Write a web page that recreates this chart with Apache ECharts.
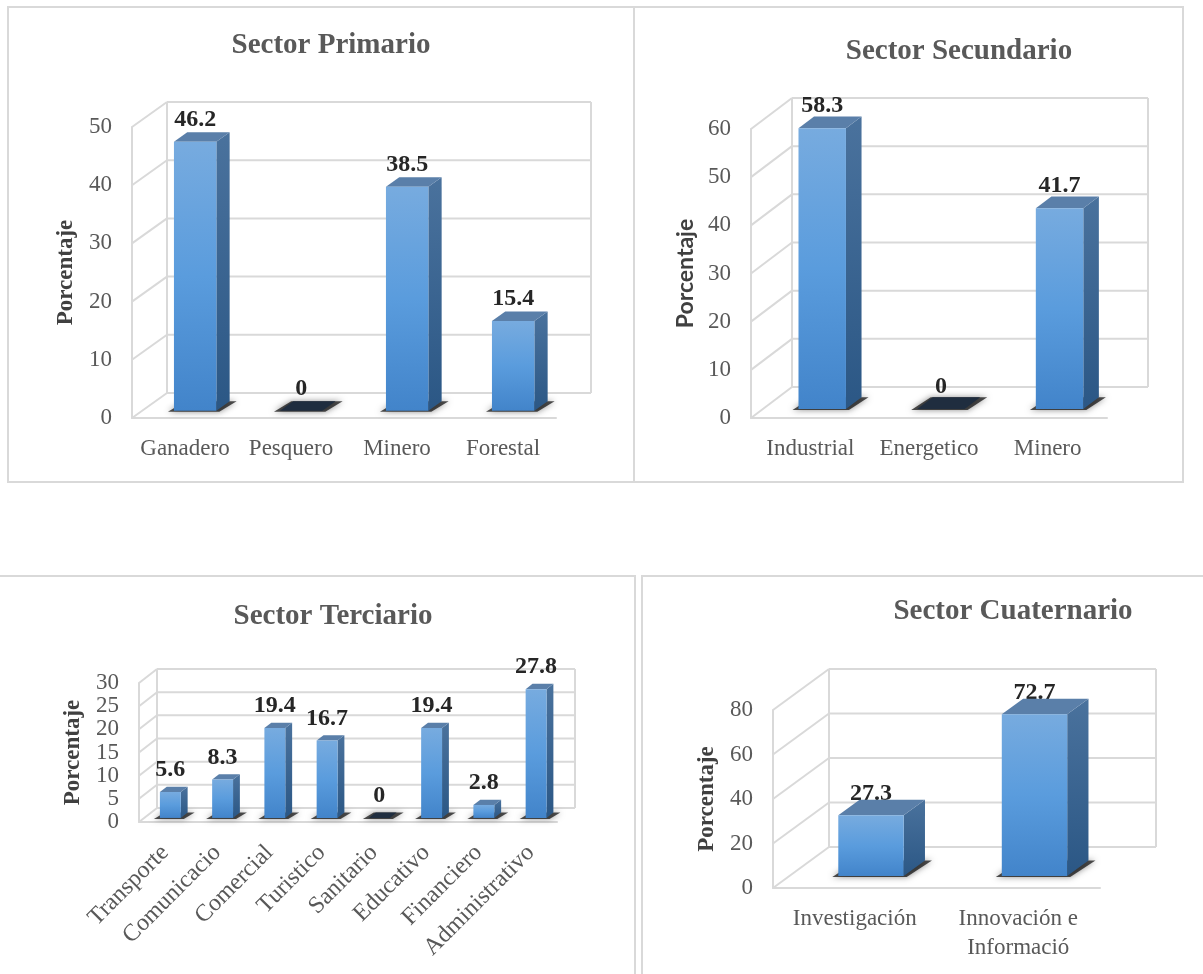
<!DOCTYPE html>
<html>
<head>
<meta charset="utf-8">
<script src="https://cdn.jsdelivr.net/npm/echarts@6/dist/echarts.min.js"></script>
<style>
  html, body { margin: 0; padding: 0; background: #fff; overflow: hidden; }
  #chart { width: 1203px; height: 974px; }
</style>
</head>
<body>
<div id="chart"></div>
<script>
// datos de cada sector
const primCats = ['Ganadero', 'Pesquero', 'Minero', 'Forestal']
const primVals = [46.2, 0, 38.5, 15.4]
const primTicks = [0, 10, 20, 30, 40, 50]

const secCats = ['Industrial', 'Energetico', 'Minero']
const secVals = [58.3, 0, 41.7]
const secTicks = [0, 10, 20, 30, 40, 50, 60]

const terCats = ['Transporte', 'Comunicacio', 'Comercial', 'Turistico', 'Sanitario', 'Educativo', 'Financiero', 'Administrativo']
const terVals = [5.6, 8.3, 19.4, 16.7, 0, 19.4, 2.8, 27.8]
const terTicks = [0, 5, 10, 15, 20, 25, 30]

const cuaCats = ['Investigación', 'Innovación e\nInformació']
const cuaVals = [27.3, 72.7]
const cuaTicks = [0, 20, 40, 60, 80]

const SERIF = '"Liberation Serif", "Times New Roman", serif'
const GRID_COLOR = '#d9d9d9'
const TEXT_COLOR = '#595959'

// layout of each panel (front plane of the 3d box + depth vector)
const panels = [
  { title: 'Sector Primario', tx: 331, ty: 46, cats: primCats, vals: primVals, ticks: primTicks,
    grid: { left: 132, top: 127, width: 424, height: 291 }, depth: [35, -25], nameFont: SERIF, rotate: 0 },
  { title: 'Sector Secundario', tx: 959, ty: 52, cats: secCats, vals: secVals, ticks: secTicks,
    grid: { left: 751, top: 129, width: 356, height: 289 }, depth: [41, -31], nameFont: 'Lato, "Open Sans", sans-serif', rotate: 0 },
  { title: 'Sector Terciario', tx: 333, ty: 617, cats: terCats, vals: terVals, ticks: terTicks,
    grid: { left: 139, top: 683, width: 418, height: 139 }, depth: [18, -14], nameFont: SERIF, rotate: 45 },
  { title: 'Sector Cuaternario', tx: 1013, ty: 612, cats: cuaCats, vals: cuaVals, ticks: cuaTicks,
    grid: { left: 773, top: 710, width: 327, height: 178 }, depth: [56, -41], nameFont: SERIF, rotate: 0 },
]

// back wall + side wall lines
function wallRenderer(depth, yMax) {
  return function (params, api) {
    const cs = params.coordSys
    const v = api.value(1)
    const y = api.coord([0, v])[1]
    const x0 = cs.x
    const xr = cs.x + cs.width
    const [dx, dy] = depth
    const ls = { stroke: GRID_COLOR, lineWidth: 2 }
    const children = [
      { type: 'line', shape: { x1: x0, y1: y, x2: x0 + dx, y2: y + dy }, style: ls },
      { type: 'line', shape: { x1: x0 + dx, y1: y + dy, x2: xr + dx, y2: y + dy }, style: ls },
    ]
    if (params.dataIndex === 0) {
      const yTop = api.coord([0, yMax])[1]
      children.push(
        { type: 'line', shape: { x1: x0 + dx, y1: y + dy, x2: x0 + dx, y2: yTop + dy }, style: ls },
        { type: 'line', shape: { x1: xr + dx, y1: y + dy, x2: xr + dx, y2: yTop + dy }, style: ls }
      )
    }
    return { type: 'group', children }
  }
}

// barras 3d
function barRenderer(depth) {
  return function (params, api) {
    const idx = api.value(0)
    const val = api.value(1)
    const base = api.coord([idx, 0])
    const top = api.coord([idx, val])
    const band = api.size([1, 0])[0]
    const w = band * 0.4
    const ox = depth[0] * 0.29, oy = depth[1] * 0.29
    const dx = depth[0] * 0.38, dy = depth[1] * 0.38
    const cx = base[0] + ox
    const x0 = cx - w / 2
    const x1 = cx + w / 2
    const yb = base[1] + oy
    const yt = top[1] + oy

    const children = []
    // etiqueta (detras de la barra, como en el original)
    children.push({
      type: 'text',
      style: {
        text: String(val), x: cx, y: yt - 22,
        align: 'center', verticalAlign: 'middle',
        font: 'bold 24px ' + SERIF, fill: '#262626'
      }
    })
    // sombra en el piso
    children.push({
      type: 'polygon',
      shape: { points: [[x0 - 6, yb + 1], [x1 + 3, yb + 1], [x1 + dx + 7, yb + dy], [x0 + dx - 2, yb + dy]] },
      style: { fill: 'rgba(20,20,20,0.75)', shadowBlur: 6, shadowColor: 'rgba(0,0,0,0.6)' }
    })
    if (val === 0) {
      children.push({
        type: 'polygon',
        shape: { points: [[x0, yb], [x1, yb], [x1 + dx, yb + dy], [x0 + dx, yb + dy]] },
        style: { fill: '#1f2d3f' }
      })
      return { type: 'group', children }
    }
    // cara lateral
    children.push({
      type: 'polygon',
      shape: { points: [[x1, yb], [x1 + dx, yb + dy], [x1 + dx, yt + dy], [x1, yt]] },
      style: {
        fill: { type: 'linear', x: 0, y: 0, x2: 0, y2: 1, colorStops: [
          { offset: 0, color: '#4a729d' }, { offset: 1, color: '#2b5785' }
        ] }
      }
    })
    // cara superior
    children.push({
      type: 'polygon',
      shape: { points: [[x0, yt], [x1, yt], [x1 + dx, yt + dy], [x0 + dx, yt + dy]] },
      style: { fill: '#5a7fa9' }
    })
    // cara frontal
    children.push({
      type: 'rect',
      shape: { x: x0, y: yt, width: w, height: yb - yt },
      style: {
        fill: { type: 'linear', x: 0, y: 0, x2: 0, y2: 1, colorStops: [
          { offset: 0, color: '#77abdf' }, { offset: 0.5, color: '#5a9cdd' }, { offset: 1, color: '#4284ca' }
        ] }
      }
    })
    return { type: 'group', children }
  }
}

const option = {
  animation: false,
  grid: [],
  xAxis: [],
  yAxis: [],
  series: [],
  graphic: [
    { type: 'rect', shape: { x: 8, y: 7, width: 626, height: 475 }, style: { fill: 'none', stroke: GRID_COLOR, lineWidth: 2 } },
    { type: 'rect', shape: { x: 634, y: 7, width: 549, height: 475 }, style: { fill: 'none', stroke: GRID_COLOR, lineWidth: 2 } },
    { type: 'polyline', shape: { points: [[0, 576], [635, 576], [635, 980]] }, style: { fill: 'none', stroke: GRID_COLOR, lineWidth: 2 } },
    { type: 'polyline', shape: { points: [[642, 980], [642, 576], [1210, 576]] }, style: { fill: 'none', stroke: GRID_COLOR, lineWidth: 2 } },
  ],
}

panels.forEach((p, i) => {
  const yMax = p.ticks[p.ticks.length - 1]
  option.grid.push(Object.assign({}, p.grid))
  option.xAxis.push({
    type: 'category',
    gridIndex: i,
    data: p.cats,
    axisLine: { show: true, lineStyle: { color: GRID_COLOR, width: 2 } },
    axisTick: { show: false },
    splitLine: { show: false },
    axisLabel: {
      interval: 0,
      rotate: p.rotate,
      margin: p.rotate ? 27 : 16,
      fontFamily: SERIF,
      fontSize: p.rotate ? 24 : 23,
      lineHeight: 29,
      color: TEXT_COLOR,
    },
  })
  option.yAxis.push({
    type: 'value',
    gridIndex: i,
    min: 0,
    max: yMax,
    interval: p.ticks[1] - p.ticks[0],
    name: 'Porcentaje',
    nameLocation: 'middle',
    nameRotate: 90,
    nameGap: 54,
    nameTextStyle: { fontFamily: p.nameFont, fontWeight: 'bold', fontSize: 23, color: '#404040' },
    axisLine: { show: true, lineStyle: { color: GRID_COLOR, width: 2 } },
    axisTick: { show: false },
    splitLine: { show: false },
    axisLabel: { margin: 20, fontFamily: SERIF, fontSize: 23, color: TEXT_COLOR },
  })
  option.series.push({
    type: 'custom',
    xAxisIndex: i,
    yAxisIndex: i,
    silent: true,
    z: 1,
    renderItem: wallRenderer(p.depth, yMax),
    data: p.ticks.map(v => [0, v]),
  })
  option.series.push({
    type: 'custom',
    xAxisIndex: i,
    yAxisIndex: i,
    silent: true,
    z: 3,
    renderItem: barRenderer(p.depth),
    data: p.vals.map((v, k) => [k, v]),
  })
  option.graphic.push({
    type: 'text',
    x: p.tx,
    y: p.ty,
    style: { text: p.title, align: 'center', verticalAlign: 'middle', font: 'bold 29px ' + SERIF, fill: TEXT_COLOR },
  })
})

const chart = echarts.init(document.getElementById('chart'))
chart.setOption(option)
</script>
</body>
</html>
